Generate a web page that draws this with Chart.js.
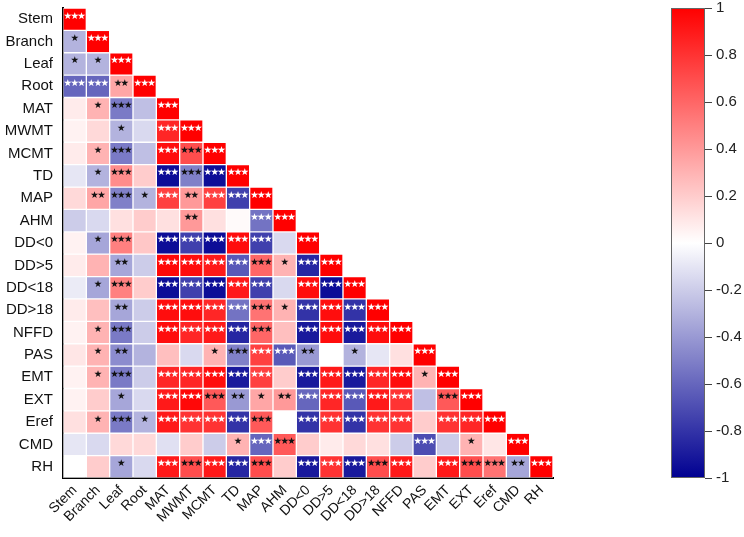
<!DOCTYPE html>
<html>
<head>
<meta charset="utf-8">
<script src="https://cdn.jsdelivr.net/npm/chart.js@4.4.1/dist/chart.umd.min.js"></script>
<style>
  html, body { margin: 0; padding: 0; background: #fff; }
  #wrap { width: 744px; height: 537px; }
</style>
</head>
<body>
<div id="wrap"><canvas id="corr" width="744" height="537"></canvas></div>
<script>
// variables, top to bottom / left to right
var variables = ['Stem', 'Branch', 'Leaf', 'Root', 'MAT', 'MWMT', 'MCMT', 'TD', 'MAP', 'AHM',
    'DD<0', 'DD>5', 'DD<18', 'DD>18', 'NFFD', 'PAS', 'EMT', 'EXT', 'Eref', 'CMD', 'RH'];

// lower triangle of the correlation matrix, one row per variable
var corrValues = [
    [1],
    [-0.3, 1],
    [-0.3, -0.3, 1],
    [-0.6, -0.6, 0.35, 1],
    [0.08, 0.3, -0.52, -0.25, 1],
    [0.05, 0.15, -0.3, -0.15, 0.85, 1],
    [0.08, 0.3, -0.52, -0.25, 0.95, 0.7, 1],
    [-0.1, -0.3, 0.45, 0.2, -0.95, -0.5, -0.95, 1],
    [0.15, 0.35, -0.5, -0.3, 0.75, 0.4, 0.75, -0.75, 1],
    [-0.2, -0.15, 0.12, 0.2, 0.12, 0.4, 0.12, 0.02, -0.55, 1],
    [0.05, -0.35, 0.5, 0.22, -0.95, -0.75, -0.95, 0.95, -0.75, -0.15, 1],
    [0.08, 0.3, -0.35, -0.2, 0.97, 0.95, 0.9, -0.65, 0.6, 0.3, -0.85, 1],
    [-0.08, -0.35, 0.5, 0.2, -0.95, -0.75, -0.95, 0.9, -0.75, -0.15, 0.95, -0.95, 1],
    [0.08, 0.25, -0.35, -0.2, 0.95, 0.95, 0.85, -0.55, 0.55, 0.3, -0.8, 0.95, -0.8, 1],
    [0.05, 0.3, -0.52, -0.2, 0.95, 0.85, 0.9, -0.85, 0.6, 0.25, -0.9, 0.95, -0.9, 0.95, 1],
    [0.1, 0.3, -0.45, -0.3, 0.25, -0.15, 0.3, -0.5, 0.75, -0.65, -0.4, 0.0, -0.3, -0.1, 0.12, 1],
    [0.05, 0.3, -0.52, -0.2, 0.85, 0.85, 0.95, -0.9, 0.75, 0.2, -0.9, 0.9, -0.9, 0.85, 0.95, 0.3, 1],
    [0.05, 0.2, -0.35, -0.15, 0.9, 0.97, 0.65, -0.4, 0.35, 0.4, -0.6, 0.85, -0.65, 0.9, 0.8, -0.25, 0.65, 1],
    [0.12, 0.3, -0.52, -0.3, 0.9, 0.8, 0.8, -0.8, 0.65, 0.0, -0.8, 0.8, -0.8, 0.8, 0.8, 0.2, 0.8, 0.85, 1],
    [-0.1, -0.15, 0.15, 0.15, -0.12, 0.2, -0.2, 0.3, -0.6, 0.65, 0.2, 0.08, 0.15, 0.12, -0.2, -0.7, -0.2, 0.3, 0.1, 1],
    [0.0, 0.2, -0.35, -0.15, 0.9, 0.7, 0.9, -0.85, 0.7, 0.2, -0.9, 0.8, -0.9, 0.7, 0.9, 0.2, 0.9, 0.7, 0.55, -0.35, 1]
];

// significance stars (0 = none, 1 = *, 2 = **, 3 = ***)
var corrStars = [
    [3],
    [1, 3],
    [1, 1, 3],
    [3, 3, 2, 3],
    [0, 1, 3, 0, 3],
    [0, 0, 1, 0, 3, 3],
    [0, 1, 3, 0, 3, 3, 3],
    [0, 1, 3, 0, 3, 3, 3, 3],
    [0, 2, 3, 1, 3, 2, 3, 3, 3],
    [0, 0, 0, 0, 0, 2, 0, 0, 3, 3],
    [0, 1, 3, 0, 3, 3, 3, 3, 3, 0, 3],
    [0, 0, 2, 0, 3, 3, 3, 3, 3, 1, 3, 3],
    [0, 1, 3, 0, 3, 3, 3, 3, 3, 0, 3, 3, 3],
    [0, 0, 2, 0, 3, 3, 3, 3, 3, 1, 3, 3, 3, 3],
    [0, 1, 3, 0, 3, 3, 3, 3, 3, 0, 3, 3, 3, 3, 3],
    [0, 1, 2, 0, 0, 0, 1, 3, 3, 3, 2, 0, 1, 0, 0, 3],
    [0, 1, 3, 0, 3, 3, 3, 3, 3, 0, 3, 3, 3, 3, 3, 1, 3],
    [0, 0, 1, 0, 3, 3, 3, 2, 1, 2, 3, 3, 3, 3, 3, 0, 3, 3],
    [0, 1, 3, 1, 3, 3, 3, 3, 3, 0, 3, 3, 3, 3, 3, 0, 3, 3, 3],
    [0, 0, 0, 0, 0, 0, 0, 1, 3, 3, 0, 0, 0, 0, 0, 3, 0, 1, 0, 3],
    [0, 0, 1, 0, 3, 3, 3, 3, 3, 0, 3, 3, 3, 3, 3, 0, 3, 3, 3, 2, 3]
];

// colour bar ticks
var barTicks = [1, 0.8, 0.6, 0.4, 0.2, 0, -0.2, -0.4, -0.6, -0.8, -1];

var fontFamily = '"Liberation Sans", Arial, sans-serif';

// blue - white - red
function corrColor(v) {
    if (v >= 0) {
        var k = 255 * (1 - v);
        return [255, k, k];
    }
    var a = -v;
    return [255 * (1 - a), 255 * (1 - a), 255 - (255 - 145) * a];
}
function rgb(c) {
    return 'rgb(' + Math.round(c[0]) + ',' + Math.round(c[1]) + ',' + Math.round(c[2]) + ')';
}

var n = variables.length;
var datasets = variables.map(function(rowName, r) {
    return {
        label: rowName,
        data: variables.map(function(colName, c) {
            return c <= r ? [n - 1 - r, n - r] : null;
        }),
        backgroundColor: variables.map(function(colName, c) {
            return c <= r ? rgb(corrColor(corrValues[r][c])) : 'rgba(0,0,0,0)';
        }),
        borderColor: 'rgba(255,255,255,0.55)',
        borderWidth: 1,
        borderSkipped: false,
        barPercentage: 1,
        categoryPercentage: 1,
        grouped: false
    };
});

// stars on the cells
var starPlugin = {
    id: 'stars',
    afterDatasetsDraw: function(chart) {
        var ctx = chart.ctx;
        ctx.save();
        ctx.font = '9.5px "DejaVu Sans"';
        ctx.textAlign = 'center';
        ctx.textBaseline = 'middle';
        chart.data.datasets.forEach(function(ds, r) {
            var meta = chart.getDatasetMeta(r);
            meta.data.forEach(function(bar, c) {
                var count = c <= r ? corrStars[r][c] : 0;
                if (!count) return;
                var col = corrColor(corrValues[r][c]);
                var lum = 0.299 * col[0] + 0.587 * col[1] + 0.114 * col[2];
                ctx.fillStyle = lum < 125 ? '#ffffff' : '#111111';
                var y = (bar.y + bar.base) / 2 - 3;
                for (var k = 0; k < count; k++) {
                    ctx.fillText('★', bar.x + (k - (count - 1) / 2) * 6.8, y);
                }
            });
        });
        ctx.restore();
    }
};

// colour bar on the right, placed with the cb scale
var colorBarPlugin = {
    id: 'colorBar',
    afterDraw: function(chart) {
        var cb = chart.scales.cb;
        var ctx = chart.ctx;
        var top = cb.getPixelForValue(1);
        var bottom = cb.getPixelForValue(-1);
        var x0 = cb.left + 118;
        var w = 34;
        var grad = ctx.createLinearGradient(0, top, 0, bottom);
        for (var i = 0; i <= 20; i++) {
            var v = 1 - i / 10;
            grad.addColorStop(i / 20, rgb(corrColor(v)));
        }
        ctx.save();
        ctx.fillStyle = grad;
        ctx.fillRect(x0, top, w, bottom - top);
        ctx.strokeStyle = '#666';
        ctx.lineWidth = 1;
        ctx.strokeRect(x0 + 0.5, top + 0.5, w - 1, bottom - top - 1);
        ctx.beginPath();
        barTicks.forEach(function(t) {
            var y = Math.round(cb.getPixelForValue(t)) + 0.5;
            ctx.moveTo(x0 + w, y);
            ctx.lineTo(x0 + w + 7, y);
        });
        ctx.strokeStyle = '#444';
        ctx.stroke();
        ctx.restore();
    }
};

// fixed axis sizes, no extra padding around the plot
function noPad(s) {
    s.paddingTop = 0;
    s.paddingBottom = 0;
}

var ctx = document.getElementById('corr').getContext('2d');
var chart = new Chart(ctx, {
    type: 'bar',
    data: {
        labels: variables,
        datasets: datasets
    },
    options: {
        responsive: false,
        animation: false,
        devicePixelRatio: 1,
        layout: { padding: { top: 8, left: 0, right: 0, bottom: 0 } },
        plugins: {
            legend: { display: false },
            tooltip: { enabled: false }
        },
        scales: {
            x: {
                type: 'category',
                grid: { display: false, drawTicks: false },
                border: { display: true, color: '#000', width: 2 },
                afterFit: function(s) { s.height = 59; },
                ticks: {
                    autoSkip: false,
                    minRotation: 45,
                    maxRotation: 45,
                    padding: 4,
                    color: '#111',
                    font: { size: 14, family: fontFamily }
                }
            },
            y: {
                type: 'linear',
                position: 'left',
                min: 0,
                max: n,
                grid: { display: false, drawTicks: false },
                border: { display: true, color: '#000', width: 2 },
                afterBuildTicks: function(s) {
                    s.ticks = variables.map(function(name, i) { return { value: n - 0.5 - i }; });
                },
                afterFit: function(s) { s.width = 63; noPad(s); },
                ticks: {
                    autoSkip: false,
                    padding: 10,
                    color: '#111',
                    font: { size: 15, family: fontFamily },
                    callback: function(v) { return variables[Math.round(n - 0.5 - v)]; }
                }
            },
            cb: {
                type: 'linear',
                position: 'right',
                min: -1,
                max: 1,
                grid: { display: false, drawTicks: false },
                border: { display: false },
                afterBuildTicks: function(s) {
                    s.ticks = barTicks.map(function(v) { return { value: v }; });
                },
                afterFit: function(s) { s.width = 191; noPad(s); },
                ticks: {
                    autoSkip: false,
                    padding: 163,
                    color: '#222',
                    font: { size: 15, family: fontFamily },
                    callback: function(v) { return String(Math.round(v * 10) / 10); }
                }
            }
        }
    },
    plugins: [starPlugin, colorBarPlugin]
});
</script>
</body>
</html>
